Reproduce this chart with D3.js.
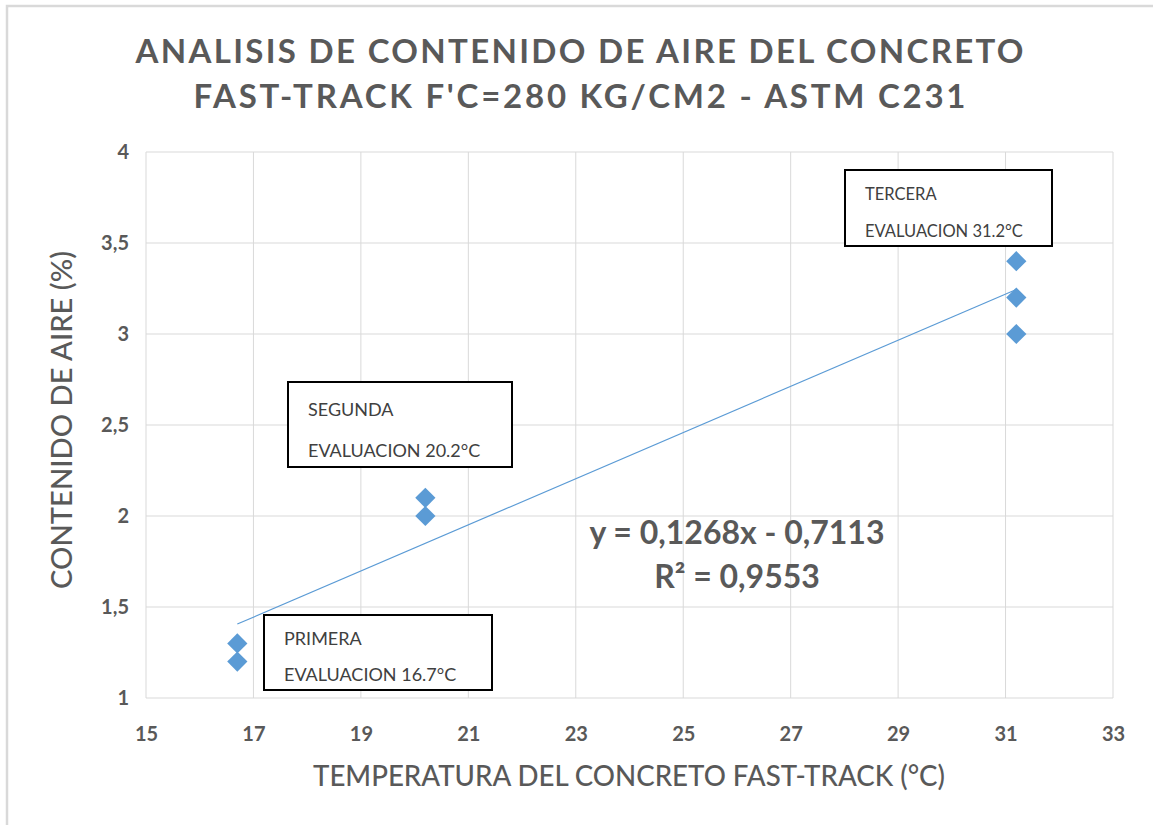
<!DOCTYPE html>
<html><head><meta charset="utf-8">
<script src="https://cdn.jsdelivr.net/npm/d3@7"></script>
<style>body{margin:0;background:#fff}svg{display:block}</style>
</head><body>
<script>
const titleLines = ["ANALISIS DE CONTENIDO DE AIRE DEL CONCRETO", "FAST-TRACK F'C=280 KG/CM2 - ASTM C231"];
const xTitle = "TEMPERATURA DEL CONCRETO FAST-TRACK (°C)";
const yTitle = "CONTENIDO DE AIRE (%)";
const temps = [16.7, 16.7, 20.2, 20.2, 31.2, 31.2, 31.2];
const air = [1.3, 1.2, 2.1, 2.0, 3.4, 3.2, 3.0];
const xTicks = [15, 17, 19, 21, 23, 25, 27, 29, 31, 33];
const yTicks = [1, 1.5, 2, 2.5, 3, 3.5, 4];
const slope = 0.1268, intercept = -0.7113, r2 = 0.9553;
const eqLines = ["y = 0,1268x - 0,7113", "R² = 0,9553"];
const labelLines = [["PRIMERA", "EVALUACION 16.7°C"], ["SEGUNDA", "EVALUACION 20.2°C"], ["TERCERA", "EVALUACION 31.2°C"]];

const W = 1153, H = 825;
const svg = d3.select("body").append("svg").attr("width", W).attr("height", H);
const font = "Lato, 'Open Sans', sans-serif";
const grey = "#595959";

// outer chart border
svg.append("rect").attr("x", 7).attr("y", 6).attr("width", W + 20).attr("height", H + 20)
  .attr("fill", "none").attr("stroke", "#d9d9d9").attr("stroke-width", 2.5);

const m = {l: 146, t: 152, r: 1113, b: 698};
const x = d3.scaleLinear().domain([15, 33]).range([m.l, m.r]);
const y = d3.scaleLinear().domain([1, 4]).range([m.b, m.t]);

// grid
svg.append("g").selectAll("line").data(xTicks).join("line")
  .attr("x1", d => x(d)).attr("x2", d => x(d)).attr("y1", m.t).attr("y2", m.b)
  .attr("stroke", "#d9d9d9").attr("stroke-width", 1);
svg.append("g").selectAll("line").data(yTicks).join("line")
  .attr("y1", d => y(d)).attr("y2", d => y(d)).attr("x1", m.l).attr("x2", m.r)
  .attr("stroke", "#d9d9d9").attr("stroke-width", 1);

// axes (labels only)
const xa = svg.append("g").attr("transform", `translate(0,${m.b + 26})`)
  .call(d3.axisBottom(x).tickValues(xTicks).tickSize(0).tickFormat(d3.format("d")));
xa.select(".domain").remove();
xa.selectAll("text").attr("font-family", font).attr("font-weight", 700).attr("font-size", 20).attr("fill", grey);

const fmtY = d => String(d).replace(".", ",");
const ya = svg.append("g").attr("transform", `translate(${m.l - 14},0)`)
  .call(d3.axisLeft(y).tickValues(yTicks).tickSize(0).tickFormat(fmtY));
ya.select(".domain").remove();
ya.selectAll("text").attr("font-family", font).attr("font-weight", 700).attr("font-size", 20).attr("fill", grey);

// trendline
const tx = d3.extent(temps);
svg.append("line")
  .attr("x1", x(tx[0])).attr("y1", y(slope * tx[0] + intercept))
  .attr("x2", x(tx[1])).attr("y2", y(slope * tx[1] + intercept))
  .attr("stroke", "#5B9BD5").attr("stroke-width", 1.2);

// markers
const diamond = d3.symbol().type(d3.symbolSquare).size(205);
svg.append("g").selectAll("path").data(temps.map((t, i) => [t, air[i]])).join("path")
  .attr("d", diamond)
  .attr("transform", d => `translate(${x(d[0])},${y(d[1])}) rotate(45)`)
  .attr("fill", "#5B9BD5");

// title
const tl = [{t: titleLines[0], y: 63, w: 888}, {t: titleLines[1], y: 108, w: 772}];
svg.append("g").selectAll("text").data(tl).join("text")
  .attr("x", W / 2 + 3).attr("y", d => d.y).attr("text-anchor", "middle")
  .attr("textLength", d => d.w).attr("lengthAdjust", "spacing")
  .attr("font-family", font).attr("font-weight", 700).attr("font-size", 33).attr("fill", grey)
  .text(d => d.t);

// axis titles
svg.append("text").attr("x", 629).attr("y", 786).attr("text-anchor", "middle")
  .attr("textLength", 632).attr("lengthAdjust", "spacingAndGlyphs")
  .attr("font-family", font).attr("font-weight", 500).attr("font-size", 28).attr("fill", grey).text(xTitle);
svg.append("text").attr("transform", "translate(72,420) rotate(-90)").attr("text-anchor", "middle")
  .attr("textLength", 338).attr("lengthAdjust", "spacingAndGlyphs")
  .attr("font-family", font).attr("font-weight", 500).attr("font-size", 28).attr("fill", grey).text(yTitle);

// equation
svg.append("g").selectAll("text").data(eqLines).join("text")
  .attr("x", 737).attr("y", (d, i) => 544 + i * 44).attr("text-anchor", "middle")
  .attr("font-family", font).attr("font-weight", 700).attr("font-size", 32).attr("fill", grey)
  .text(d => d);

// data label boxes
const boxes = [
  {x0: 264, y0: 615, x1: 492, y1: 690},
  {x0: 288, y0: 382, x1: 512, y1: 467},
  {x0: 845, y0: 170, x1: 1052, y1: 246}
];
const bg = svg.append("g").selectAll("g").data(boxes).join("g");
bg.append("rect").attr("x", d => d.x0).attr("y", d => d.y0)
  .attr("width", d => d.x1 - d.x0).attr("height", d => d.y1 - d.y0)
  .attr("fill", "#fff").attr("stroke", "#000").attr("stroke-width", 2);
bg.each(function(d, i) {
  const g = d3.select(this);
  const h = d.y1 - d.y0;
  labelLines[i].forEach((s, j) => {
    g.append("text").attr("x", d.x0 + 20).attr("y", d.y0 + h * (j === 0 ? 0.4 : 0.88))
      .attr("font-family", font).attr("font-size", i === 2 ? 16.5 : 18).attr("fill", "#404040")
      .text(s);
  });
});
</script>
</body></html>
